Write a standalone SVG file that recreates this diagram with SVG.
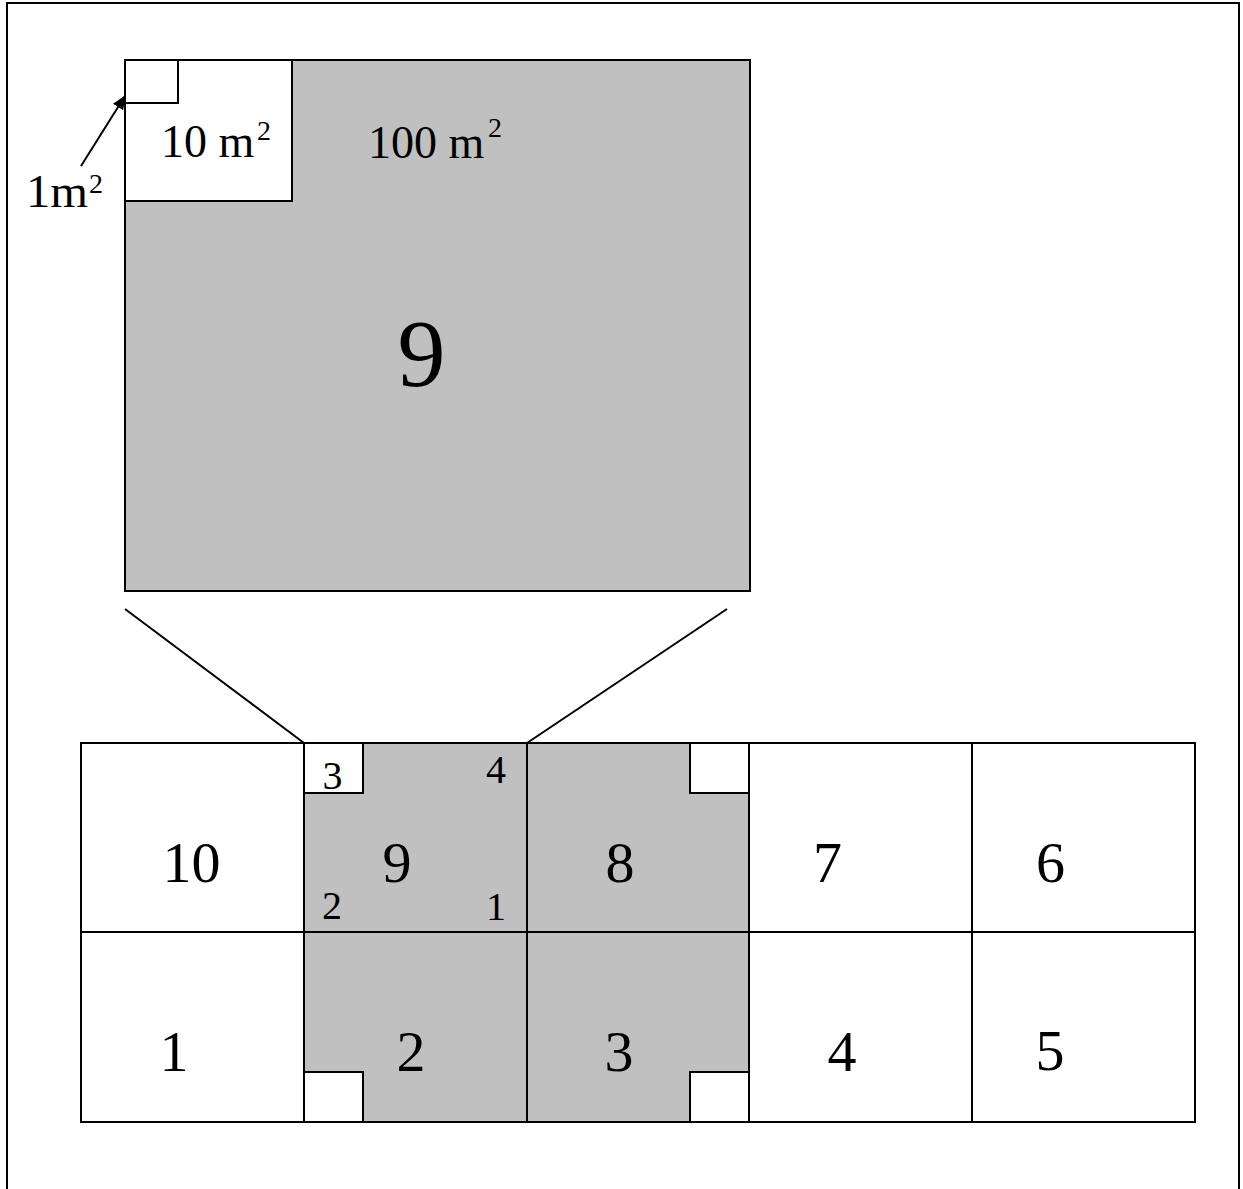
<svg xmlns="http://www.w3.org/2000/svg" width="1243" height="1189" viewBox="0 0 1243 1189">
<style>
  .ln { stroke: #000; stroke-width: 2; }
  .gray { fill: #C0C0C0; stroke: #000; stroke-width: 2; }
  .white { fill: #FFFFFF; stroke: #000; stroke-width: 2; }
  text { font-family: "Liberation Serif", "Times New Roman", serif; fill: #000; }
  .big { font-size: 58px; text-anchor: middle; }
  .small { font-size: 40px; text-anchor: middle; }
  .lab { font-size: 46px; }
  .sup { font-size: 28px; }
</style>
<defs>
  <marker id="arrow" markerWidth="14" markerHeight="12" refX="13" refY="6" orient="auto" markerUnits="userSpaceOnUse">
    <path d="M0,0 L14,6 L0,12 Z" fill="#000"/>
  </marker>
</defs>
<rect id="frame" x="7" y="3" width="1232" height="1210" fill="#fff" stroke="#000" stroke-width="2"/>

<g id="zoom-plot">
  <rect class="gray" x="125" y="60" width="625" height="531"/>
  <rect class="white" x="125" y="60" width="167" height="141"/>
  <rect class="white" x="125" y="60" width="53" height="43"/>
  <text x="161" y="157" class="lab">10 m</text>
  <text x="257" y="140" class="sup">2</text>
  <text x="368" y="158" class="lab">100 m</text>
  <text x="488" y="137" class="sup">2</text>
  <text x="421.5" y="386" font-size="96" text-anchor="middle">9</text>
</g>

<g id="label-1m2">
  <text x="26" y="206.7" class="lab" textLength="62" lengthAdjust="spacingAndGlyphs">1m</text>
  <text x="89" y="193" class="sup">2</text>
</g>

<g id="grid">
  <g id="cell-10"><rect class="white" x="81" y="743" width="223" height="189"/><text class="big" x="191.5" y="882">10</text></g>
  <g id="cell-9">
    <rect class="gray" x="304" y="743" width="223" height="189"/>
    <rect class="white" x="304" y="743" width="59" height="50"/>
    <text class="big" x="397" y="882">9</text>
    <text class="small" x="332.5" y="789">3</text>
    <text class="small" x="496" y="783">4</text>
    <text class="small" x="332" y="919">2</text>
    <text class="small" x="496" y="920">1</text>
  </g>
  <g id="cell-8">
    <rect class="gray" x="527" y="743" width="222" height="189"/>
    <rect class="white" x="690" y="743" width="59" height="50"/>
    <text class="big" x="620" y="882">8</text>
  </g>
  <g id="cell-7"><rect class="white" x="749" y="743" width="223" height="189"/><text class="big" x="827.5" y="882">7</text></g>
  <g id="cell-6"><rect class="white" x="972" y="743" width="223" height="189"/><text class="big" x="1050.5" y="882">6</text></g>
  <g id="cell-1"><rect class="white" x="81" y="932" width="223" height="190"/><text class="big" x="174" y="1071">1</text></g>
  <g id="cell-2">
    <rect class="gray" x="304" y="932" width="223" height="190"/>
    <rect class="white" x="304" y="1072" width="59" height="50"/>
    <text class="big" x="411" y="1071">2</text>
  </g>
  <g id="cell-3">
    <rect class="gray" x="527" y="932" width="222" height="190"/>
    <rect class="white" x="690" y="1072" width="59" height="50"/>
    <text class="big" x="619" y="1071">3</text>
  </g>
  <g id="cell-4"><rect class="white" x="749" y="932" width="223" height="190"/><text class="big" x="842" y="1071">4</text></g>
  <g id="cell-5"><rect class="white" x="972" y="932" width="223" height="190"/><text class="big" x="1050" y="1070">5</text></g>
</g>

<g id="connectors">
  <line class="ln" x1="125" y1="609" x2="304" y2="743"/>
  <line class="ln" x1="727" y1="609" x2="527" y2="743"/>
  <line class="ln" x1="81" y1="166" x2="125" y2="96" marker-end="url(#arrow)"/>
</g>
</svg>
